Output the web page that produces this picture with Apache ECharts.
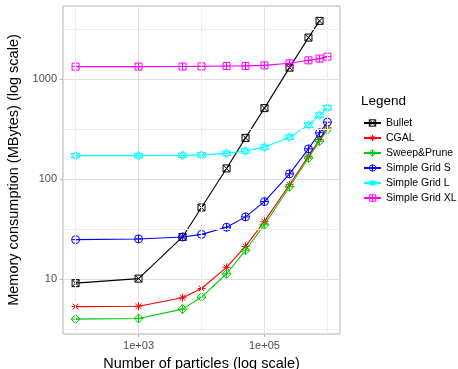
<!DOCTYPE html>
<html>
<head>
<meta charset="utf-8">
<script src="https://cdn.jsdelivr.net/npm/echarts@6/dist/echarts.min.js"></script>
<style>
html, body { margin: 0; padding: 0; background: #fff; }
#chart { width: 458px; height: 369px; }
</style>
</head>
<body>
<div id="chart"></div>
<script>
// number of particles (x) and memory use in MB (y)
const particles = [100, 1000, 5000, 10000, 25000, 50000, 100000, 250000, 500000, 750000, 1000000];
const bullet = [9.1, 10.1, 26.4, 52, 128, 259, 514, 1306, 2611, 3840];
const cgal = [5.3, 5.35, 6.5, 8.05, 13.1, 21.2, 37.8, 88, 170, 249, 326];
const sweepPrune = [3.97, 4.03, 5.0, 6.6, 11.3, 19.4, 35, 84, 163, 240, 314];
const gridS = [24.8, 25.2, 26.4, 28, 33, 41.9, 59.6, 113, 201, 291, 372];
const gridL = [172, 172, 173, 175, 181, 191, 209, 263, 347, 437, 519];
const gridXL = [1337, 1337, 1340, 1345, 1355, 1360, 1377, 1443, 1546, 1608, 1683];

const xTicks = [1000, 100000];
const xTickLabels = ["1e+03", "1e+05"];
const xMinorGrid = [100, 10000, 1000000];
const yTicks = [10, 100, 1000];
const yMinorGrid = [3.162, 31.62, 316.2, 3162];

const FONT = "Liberation Sans";

// ggplot shapes 7..12
const shapes = {
  sqX: "path://M0,0L10,0L10,10L0,10ZM0,0L10,10M10,0L0,10",
  star: "path://M5,0L5,10M0,5L10,5M1.5,1.5L8.5,8.5M8.5,1.5L1.5,8.5",
  diaPlus: "path://M5,0L10,5L5,10L0,5ZM5,0L5,10M0,5L10,5",
  circPlus: "path://M0,5A5,5,0,1,0,10,5A5,5,0,1,0,0,5ZM5,0L5,10M0,5L10,5",
  david: "path://M5,0L9.33,7.5L0.67,7.5ZM5,10L0.67,2.5L9.33,2.5Z",
  sqPlus: "path://M0,0L10,0L10,10L0,10ZM5,0L5,10M0,5L10,5",
};

const seriesDefs = [
  { name: "Bullet", values: bullet, color: "#000000", symbol: shapes.sqX, size: 7 },
  { name: "CGAL", values: cgal, color: "#ff0000", symbol: shapes.star, size: 8 },
  { name: "Sweep&Prune", values: sweepPrune, color: "#00cd00", symbol: shapes.diaPlus, size: 9 },
  { name: "Simple Grid S", values: gridS, color: "#0000ff", symbol: shapes.circPlus, size: 8 },
  { name: "Simple Grid L", values: gridL, color: "#00ffff", symbol: shapes.david, size: 9 },
  { name: "Simple Grid XL", values: gridXL, color: "#ff00ff", symbol: shapes.sqPlus, size: 7 },
];

function pairs(values) {
  return values.map((v, i) => [particles[i], v]);
}

function symbolStyle(color) {
  return { color: "rgba(0,0,0,0)", borderColor: color, borderWidth: 1 };
}

let myChart = echarts.init(document.getElementById("chart"), null, { renderer: "canvas" });

const minorLine = { color: "#ededed", width: 1, type: "solid" };

let option = {
  animation: false,
  textStyle: { fontFamily: FONT },
  title: {
    text: "Legend",
    left: 361,
    top: 94,
    padding: 0,
    textStyle: { fontFamily: FONT, fontSize: 13.5, fontWeight: "normal", color: "#000" },
  },
  legend: {
    orient: "vertical",
    left: 363,
    top: 117,
    padding: 0,
    itemWidth: 17,
    itemHeight: 8,
    itemGap: 3,
    data: seriesDefs.map((d) => ({
      name: d.name,
      itemStyle: symbolStyle(d.color),
    })),
    textStyle: { fontFamily: FONT, fontSize: 10.5, color: "#000", lineHeight: 12 },
  },
  grid: {
    left: 63,
    top: 6,
    width: 277,
    height: 328,
    show: true,
    borderColor: "#b3b3b3",
    borderWidth: 1,
    containLabel: false,
    outerBoundsMode: "none",
  },
  xAxis: {
    type: "log",
    logBase: 10,
    min: Math.pow(10, 1.8),
    max: Math.pow(10, 6.2),
    name: "Number of particles (log scale)",
    nameLocation: "middle",
    nameGap: 22,
    nameTextStyle: { fontFamily: FONT, fontSize: 14.5, color: "#000" },
    axisLine: { show: false },
    axisTick: { show: true, length: 3, customValues: xTicks, lineStyle: { color: "#b3b3b3" } },
    axisLabel: {
      margin: 6,
      fontSize: 11,
      color: "#4d4d4d",
      customValues: xTicks,
      formatter: function (v) {
        let i = xTicks.findIndex((t) => Math.abs(v - t) / t < 1e-6);
        return i >= 0 ? xTickLabels[i] : "";
      },
    },
    splitLine: { show: true, lineStyle: { color: "#e0e0e0", width: 1 } },
  },
  yAxis: {
    type: "log",
    logBase: 10,
    min: Math.pow(10, 0.45),
    max: Math.pow(10, 3.733),
    name: "Memory consumption (MBytes) (log scale)",
    nameLocation: "middle",
    nameGap: 42,
    nameTextStyle: { fontFamily: FONT, fontSize: 14.5, color: "#000" },
    axisLine: { show: false },
    axisTick: { show: true, length: 3, customValues: yTicks, lineStyle: { color: "#b3b3b3" } },
    axisLabel: {
      margin: 6,
      fontSize: 11,
      color: "#4d4d4d",
      customValues: yTicks,
      formatter: function (v) {
        let t = yTicks.find((t) => Math.abs(v - t) / t < 1e-6);
        return t ? String(t) : "";
      },
    },
    splitLine: { show: true, lineStyle: { color: "#e0e0e0", width: 1 } },
  },
  series: [
    {
      name: "_minor",
      type: "line",
      data: [],
      z: 1,
      silent: true,
      markLine: {
        silent: true,
        symbol: "none",
        label: { show: false },
        lineStyle: minorLine,
        data: yMinorGrid.map((v) => ({ yAxis: v })).concat(xMinorGrid.map((v) => ({ xAxis: v }))),
      },
    },
  ].concat(
    seriesDefs.map((d) => ({
      name: d.name,
      type: "line",
      data: pairs(d.values),
      symbol: d.symbol,
      symbolSize: d.size,
      showAllSymbol: true,
      lineStyle: { color: d.color, width: 1.1 },
      itemStyle: symbolStyle(d.color),
      z: 3,
    }))
  ),
};

option && myChart.setOption(option);
</script>
</body>
</html>
